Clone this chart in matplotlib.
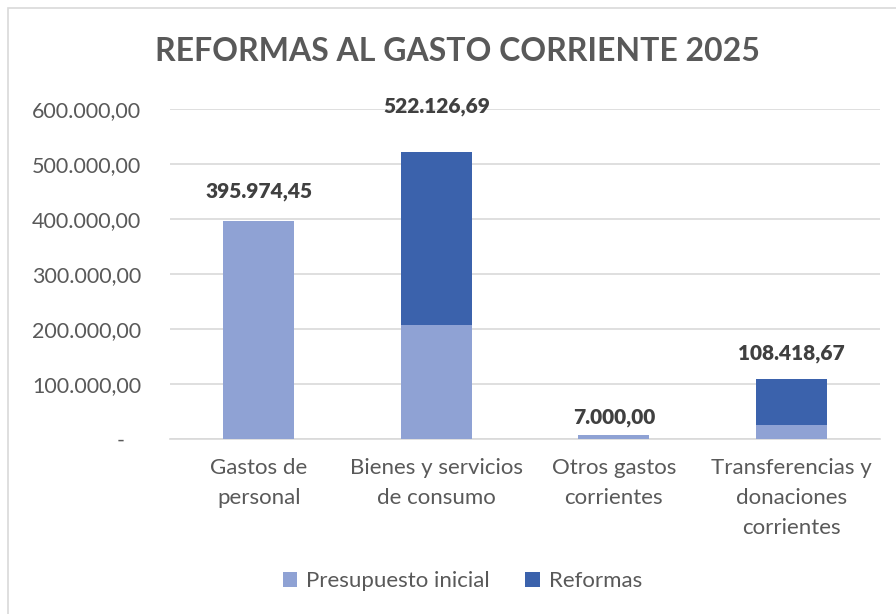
import matplotlib.pyplot as plt
import numpy as np
from matplotlib.patches import Rectangle

# --- data ---
categories = ["Gastos de\npersonal", "Bienes y servicios\nde consumo",
              "Otros gastos\ncorrientes", "Transferencias y\ndonaciones\ncorrientes"]
presupuesto_inicial = [395974.45, 208000.00, 7000.00, 26000.00]
reformas = [0.00, 314126.69, 0.00, 82418.67]
totales = [395974.45, 522126.69, 7000.00, 108418.67]
yticks = [0, 100000, 200000, 300000, 400000, 500000, 600000]

# --- style ---
FONT = "Lato"
GREY_TXT = "#595959"
C_INI = "#8FA2D4"
C_REF = "#3B62AC"
label_offsets = [15, 26, 6, 12]  # points above bar top


def es_fmt(v):
    s = f"{v:,.2f}"
    return s.replace(",", "X").replace(".", ",").replace("X", ".")


plt.rcParams['font.family'] = [FONT, 'DejaVu Sans']

fig = plt.figure(figsize=(8.96, 6.14), dpi=100)
fig.patches.append(Rectangle((0.009, -0.01), 1.0, 0.997, transform=fig.transFigure,
                             fill=False, edgecolor="#d9d9d9", linewidth=1.2))
ax = fig.add_axes([0.19, 0.285, 0.792, 0.537])

x = np.arange(len(categories))
ax.bar(x, presupuesto_inicial, width=0.4, color=C_INI, label="Presupuesto inicial", zorder=3)
ax.bar(x, reformas, width=0.4, bottom=presupuesto_inicial, color=C_REF, label="Reformas", zorder=3)

for xi, tot, off in zip(x, totales, label_offsets):
    ax.annotate(es_fmt(tot), (xi, tot), xytext=(0, off), textcoords="offset points",
                ha="center", va="bottom", fontsize=15, fontweight="heavy", color="#404040")

ax.set_xlim(-0.5, len(categories) - 0.5)
ax.set_ylim(0, 600000)
ax.set_yticks(yticks)
ax.set_yticklabels([es_fmt(v) if v else "-   " for v in yticks], fontsize=15.5, color=GREY_TXT)
ax.set_xticks(x)
ax.set_xticklabels(categories, fontsize=16, color=GREY_TXT, linespacing=1.6)
ax.tick_params(axis="both", length=0)
ax.tick_params(axis="y", pad=21)
ax.tick_params(axis="x", pad=14)
ax.grid(axis="y", color="#d9d9d9", linewidth=1.2, zorder=0)
for s in ["top", "right", "left"]:
    ax.spines[s].set_visible(False)
ax.spines["bottom"].set_color("#d9d9d9")
ax.spines["bottom"].set_linewidth(1.2)

fig.suptitle("REFORMAS AL GASTO CORRIENTE 2025", x=0.51, y=0.94, fontsize=23,
             fontweight="bold", color=GREY_TXT)

ax.legend(loc="center", bbox_to_anchor=(0.516, 0.053), bbox_transform=fig.transFigure,
          ncol=2, frameon=False, fontsize=16, handlelength=0.65, handleheight=0.65,
          columnspacing=1.6, handletextpad=0.4, labelcolor=GREY_TXT)

fig.savefig("out.png", dpi=100)
